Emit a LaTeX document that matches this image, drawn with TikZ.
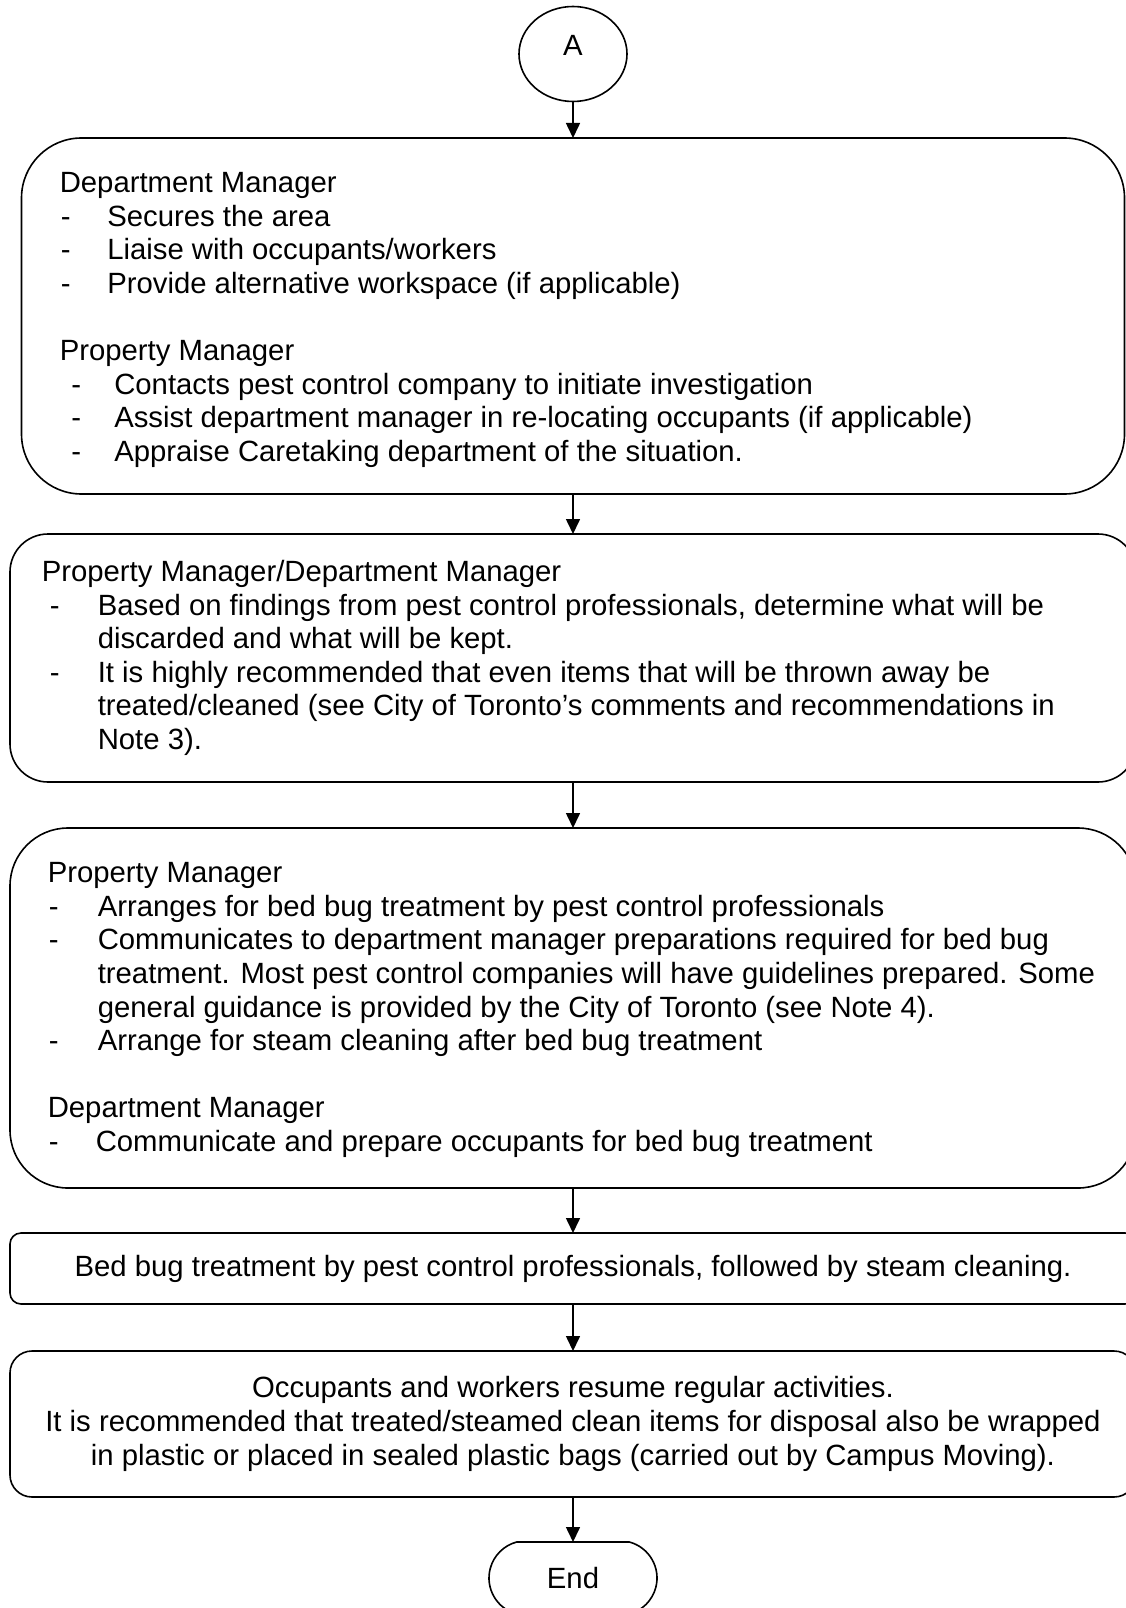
\documentclass[tikz,border=0pt]{standalone}
\usepackage{fontspec}
\setmainfont{Liberation Sans}
\usetikzlibrary{positioning,shapes.geometric,shapes.misc,arrows.meta}

\newcommand{\dashitem}[2]{\hspace*{#1}\makebox[\dimexpr#2-#1\relax][l]{-}}
\newcommand{\contitem}[1]{\hspace*{#1}}

\begin{document}
\begin{tikzpicture}[x=1pt, y=-1pt, line width=1.6pt, >={Triangle[length=15pt, width=14pt]},
    font=\fontsize{29.3}{33.6}\selectfont,
    main/.style = {draw, rectangle, inner sep=0pt, outer sep=0pt, align=center},
    term/.style = {draw, inner sep=0pt, outer sep=0pt},
    txt/.style = {anchor=west, align=left, inner sep=0pt}]
  \useasboundingbox (0,0) rectangle (1126,1608);
  \node[term, ellipse, minimum width=108pt, minimum height=95pt, text depth=17pt] (A) at (573,54) {A};
  \node[main, minimum width=1103pt, minimum height=356pt, rounded corners=60pt] (1) [below=36.5pt of A] {};
  \node[main, minimum width=1126pt, minimum height=248pt, rounded corners=38pt] (2) [below=40pt of 1] {};
  \node[main, minimum width=1126pt, minimum height=360pt, rounded corners=58pt] (3) [below=46pt of 2] {};
  \node[main, minimum width=1126pt, minimum height=71pt, rounded corners=11pt] (4) [below=45pt of 3]
    {Bed bug treatment by pest control professionals, followed by steam cleaning.};
  \node[main, minimum width=1126pt, minimum height=146pt, rounded corners=22pt] (5) [below=47pt of 4]
    {Occupants and workers resume regular activities.\\
     It is recommended that treated/steamed clean items for disposal also be wrapped\\
     in plastic or placed in sealed plastic bags (carried out by Campus Moving).};
  \node[term, rounded rectangle, rounded rectangle arc length=150, minimum width=168pt, minimum height=72pt] (end) [below=45pt of 5] {End};

  % box texts
  \node[txt] (t1) at ([xshift=37.5pt, yshift=-4pt]1.west) {Department Manager\\
    \dashitem{1pt}{47.5pt}Secures the area\\
    \dashitem{1pt}{47.5pt}Liaise with occupants/workers\\
    \dashitem{1pt}{47.5pt}Provide alternative workspace (if applicable)\\[33.6pt]
    Property Manager\\
    \dashitem{11.5pt}{54.5pt}Contacts pest control company to initiate investigation\\
    \dashitem{11.5pt}{54.5pt}Assist department manager in re-locating occupants (if applicable)\\
    \dashitem{11.5pt}{54.5pt}Appraise Caretaking department of the situation.};
  \node[txt] (t2) at ([xshift=31pt]2.west) {Property Manager/Department Manager\\
    \dashitem{8pt}{56pt}Based on findings from pest control professionals, determine what will be\\
    \contitem{56pt}discarded and what will be kept.\\
    \dashitem{8pt}{56pt}It is highly recommended that even items that will be thrown away be\\
    \contitem{56pt}treated/cleaned (see City of Toronto’s comments and recommendations in\\
    \contitem{56pt}Note 3).};
  \node[txt] (t3) at ([xshift=37pt, yshift=-2pt]3.west) {Property Manager\\
    \dashitem{1pt}{50pt}Arranges for bed bug treatment by pest control professionals\\
    \dashitem{1pt}{50pt}Communicates to department manager preparations required for bed bug\\
    \contitem{50pt}treatment. Most pest control companies will have guidelines prepared. Some\\
    \contitem{50pt}general guidance is provided by the City of Toronto (see Note 4).\\
    \dashitem{1pt}{50pt}Arrange for steam cleaning after bed bug treatment\\[33.6pt]
    Department Manager\\
    \dashitem{1pt}{48pt}Communicate and prepare occupants for bed bug treatment};

  \draw[->] (A) -- (1);
  \draw[->] (1) -- (2);
  \draw[->] (2) -- (3);
  \draw[->] (3) -- (4);
  \draw[->] (4) -- (5);
  \draw[->] (5) -- (end);
\end{tikzpicture}
\end{document}
